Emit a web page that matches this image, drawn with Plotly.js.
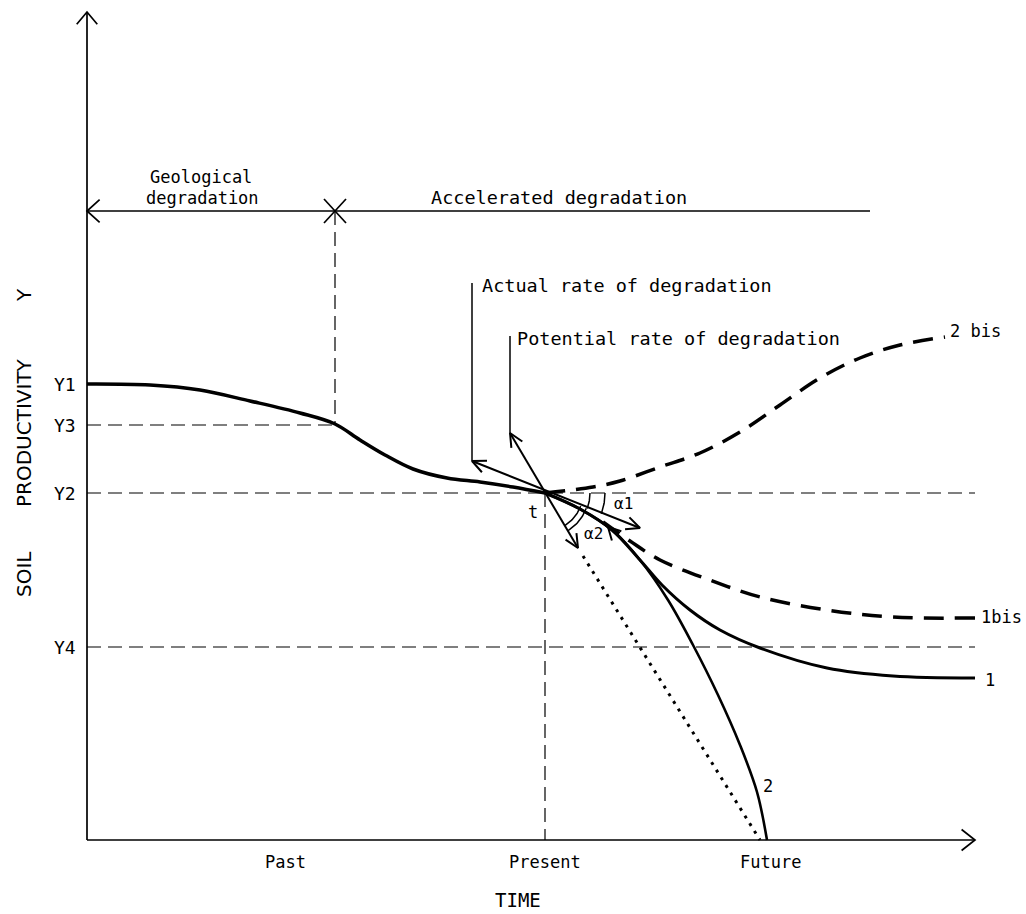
<!DOCTYPE html>
<html><head><meta charset="utf-8">
<script src="https://cdn.plot.ly/plotly-3.0.1.min.js"></script>
<style>html,body{margin:0;padding:0;background:#fff}#chart{width:1026px;height:914px}</style>
</head><body><div id="chart"></div>
<script>
// ---------- data (time units along x, productivity units along y) ----------
const levelNames  = ['Y1', 'Y3', 'Y2', 'Y4'];
const levelValues = [456, 415, 347, 193];

const timeLabels  = ['Past', 'Present', 'Future'];
const timeLabelX  = [198, 458, 683];
const presentTime = 458;
const onsetTime   = 248;     // start of accelerated degradation
const timeEnd     = 888;
const prodTop     = 828;
const bracketLevel = 629;
const bracketEnd   = 783;

// historical (past) soil productivity curve
const pastT = [0, 63, 113, 163, 213, 248, 273, 298, 326, 360, 393, 426, 458];
const pastY = [456, 455, 450, 439, 427, 416, 400, 385, 371, 362, 358, 353, 347];

// future scenario 1 (solid)
const curve1T = [458, 493, 525, 553, 575, 603, 633, 673, 740, 806, 888];
const curve1Y = [347, 331, 310, 280, 255, 230, 210, 192, 172, 164, 162];
// future scenario 2 (solid, steep)
const curve2T = [458, 493, 525, 553, 581, 606, 631, 653, 670, 680];
const curve2Y = [347, 331, 310, 280, 240, 195, 145, 95, 48, 0];
// future scenario 1bis (dashed)
const curve1bisT = [516, 543, 573, 623, 673, 740, 806, 888];
const curve1bisY = [318, 299, 280, 260, 243, 230, 223, 222];
// future scenario 2bis (dashed, recovery)
const curve2bisT = [458, 506, 533, 573, 613, 653, 693, 733, 773, 813, 858];
const curve2bisY = [347, 353, 359, 373, 387, 408, 435, 462, 482, 495, 503];

// tangents at t
const actualTangentT = [385, 553];
const actualTangentY = [379, 312];
const potentialTangentT = [423, 491];
const potentialTangentY = [407, 292];
const potentialExtrapT = [496, 673];
const potentialExtrapY = [284, 0];
const actualLeaderTop = 557;
const potentialLeaderTop = 504;

// curve labels
const curveLabels = ['2 bis', '1bis', '1', '2'];
const curveLabelT = [888, 914, 903, 681];
const curveLabelY = [509, 223, 160, 54];

// ---------- helpers for construction marks ----------
function chevron(tipX, tipY, fromX, fromY, len, half) {
  const a = Math.atan2(fromY - tipY, fromX - tipX);
  const r = half * Math.PI / 180;
  return {
    x: [tipX + len * Math.cos(a + r), tipX, tipX + len * Math.cos(a - r), null],
    y: [tipY + len * Math.sin(a + r), tipY, tipY + len * Math.sin(a - r), null]
  };
}
function arc(cx, cy, r, a0, a1) {
  const xs = [], ys = [];
  for (let i = 0; i <= 24; i++) {
    const a = (a0 + (a1 - a0) * i / 24) * Math.PI / 180;
    xs.push(cx + r * Math.cos(a)); ys.push(cy + r * Math.sin(a));
  }
  xs.push(null); ys.push(null);
  return {x: xs, y: ys};
}
function join(parts) {
  const o = {x: [], y: []};
  parts.forEach(p => { o.x.push(...p.x); o.y.push(...p.y); });
  return o;
}
const seg = (x0, y0, x1, y1) => ({x: [x0, x1, null], y: [y0, y1, null]});

const tX = presentTime, tY = levelValues[2];
const angA = Math.atan2(actualTangentY[1] - tY, actualTangentT[1] - tX) * 180 / Math.PI;
const angB = Math.atan2(potentialTangentY[1] - tY, potentialTangentT[1] - tX) * 180 / Math.PI;

// thin dashed reference lines
const refDash = join([
  seg(0, levelValues[1], onsetTime, levelValues[1]),
  seg(0, levelValues[2], timeEnd, levelValues[2]),
  seg(0, levelValues[3], timeEnd, levelValues[3]),
  seg(presentTime, levelValues[2], presentTime, 0),
  seg(onsetTime, bracketLevel, onsetTime, levelValues[1])
]);
// axes and bracket
const axes = join([
  seg(0, 0, 0, prodTop), seg(0, 0, timeEnd, 0), seg(0, bracketLevel, bracketEnd, bracketLevel),
  chevron(0, prodTop, 0, 0, 16, 40), chevron(timeEnd, 0, 0, 0, 17, 38),
  chevron(0, bracketLevel, 100, bracketLevel, 17, 42),
  seg(onsetTime - 11, bracketLevel - 12, onsetTime + 11, bracketLevel + 12),
  seg(onsetTime - 11, bracketLevel + 12, onsetTime + 11, bracketLevel - 12)
]);
const leaders = join([
  seg(actualTangentT[0], actualTangentY[0], actualTangentT[0], actualLeaderTop),
  seg(potentialTangentT[0], potentialTangentY[0], potentialTangentT[0], potentialLeaderTop)
]);
const tangents = join([
  seg(actualTangentT[0], actualTangentY[0], actualTangentT[1], actualTangentY[1]),
  seg(potentialTangentT[0], potentialTangentY[0], potentialTangentT[1], potentialTangentY[1]),
  chevron(actualTangentT[0], actualTangentY[0], tX, tY, 15, 25),
  chevron(actualTangentT[1], actualTangentY[1], tX, tY, 15, 25),
  chevron(potentialTangentT[0], potentialTangentY[0], tX, tY, 15, 25),
  chevron(potentialTangentT[1], potentialTangentY[1], tX, tY, 15, 25),
  chevron(curve2T[2] - 4, curve2Y[2] + 3, curve2T[3], curve2Y[3], 14, 28)
]);
const arcs = join([
  arc(tX, tY, 45, 0, angA), arc(tX, tY, 60, 0, angA),
  arc(tX, tY, 38, angA, angB), arc(tX, tY, 44, angA, angB)
]);

const K = '#000';
const traces = [
  {x: refDash.x, y: refDash.y, mode: 'lines', line: {color: K, width: 1.2, dash: '14px,7px'}},
  {x: axes.x, y: axes.y, mode: 'lines', line: {color: K, width: 1.7}},
  {x: leaders.x, y: leaders.y, mode: 'lines', line: {color: K, width: 1.5}},
  {x: pastT, y: pastY, mode: 'lines', line: {color: K, width: 3.5, shape: 'spline', smoothing: 1}},
  {x: curve1T, y: curve1Y, mode: 'lines', line: {color: K, width: 3, shape: 'spline', smoothing: 1}},
  {x: curve2T, y: curve2Y, mode: 'lines', line: {color: K, width: 2.6, shape: 'spline', smoothing: 1}},
  {x: curve1bisT, y: curve1bisY, mode: 'lines', line: {color: K, width: 3.5, shape: 'spline', smoothing: 1, dash: '20px,11px'}},
  {x: curve2bisT, y: curve2bisY, mode: 'lines', line: {color: K, width: 3.5, shape: 'spline', smoothing: 1, dash: '20px,11px'}},
  {x: potentialExtrapT, y: potentialExtrapY, mode: 'lines', line: {color: K, width: 3, dash: '3px,6px'}},
  {x: tangents.x, y: tangents.y, mode: 'lines', line: {color: K, width: 2}},
  {x: arcs.x, y: arcs.y, mode: 'lines', line: {color: K, width: 1.5}}
];

const MONO = 'DejaVu Sans Mono, monospace';
const txt = (x, y, text, size, xa, extra) => Object.assign({
  x: x, y: y, xref: 'x', yref: 'y', text: text, showarrow: false,
  xanchor: xa || 'center', yanchor: 'middle', font: {family: MONO, size: size, color: K}
}, extra || {});

const annotations = [];
levelNames.forEach((n, i) => annotations.push(txt(-9, levelValues[i], n, 18, 'right')));
timeLabels.forEach((n, i) => annotations.push(txt(timeLabelX[i], -22, n, 17)));
annotations.push(txt(431, -60, 'TIME', 19));
annotations.push(txt(114, 663, 'Geological', 17));
annotations.push(txt(115, 642, 'degradation', 17));
annotations.push(txt(472, 643, 'Accelerated degradation', 18.5));
annotations.push(txt(actualTangentT[0] + 8, 555, 'Actual rate of degradation', 18.5, 'left'));
annotations.push(txt(potentialTangentT[0] + 5, 502, 'Potential rate of degradation', 18.5, 'left'));
annotations.push(txt(446, 328, 't', 17));
annotations.push(txt(536, 337, 'α1', 16));
annotations.push(txt(506, 307, 'α2', 16));
curveLabels.forEach((n, i) => annotations.push(txt(curveLabelT[i], curveLabelY[i], n, 17)));
const SANS = 'DejaVu Sans, sans-serif';
annotations.push(txt(-63, 266, 'SOIL', 20, 'center', {textangle: -90, font: {family: SANS, size: 20, color: K}}));
annotations.push(txt(-63, 407, 'PRODUCTIVITY', 20, 'center', {textangle: -90, font: {family: SANS, size: 20, color: K}}));
annotations.push(txt(-63, 545, 'Y', 20, 'center', {textangle: -90, font: {family: SANS, size: 20, color: K}}));

const layout = {
  width: 1026, height: 914,
  margin: {l: 0, r: 0, t: 0, b: 0},
  paper_bgcolor: '#fff', plot_bgcolor: '#fff',
  showlegend: false, hovermode: false,
  xaxis: {range: [-87, 939], visible: false, fixedrange: true},
  yaxis: {range: [-74, 840], visible: false, fixedrange: true},
  annotations: annotations
};
Plotly.newPlot('chart', traces, layout, {staticPlot: true, displayModeBar: false});
</script></body></html>
